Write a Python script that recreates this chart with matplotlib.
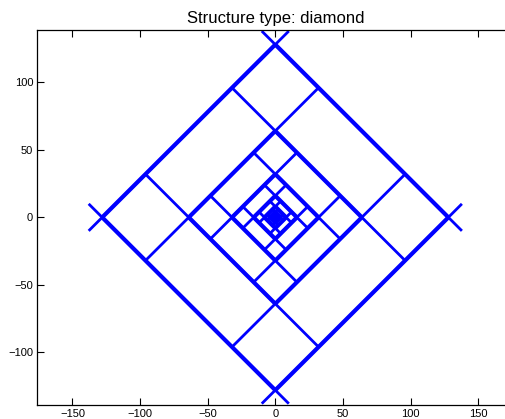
import matplotlib
matplotlib.use("Agg")
import matplotlib.pyplot as plt
import numpy as np

# half-sizes of the nested diamonds (|x| + |y| = s)
sizes = [128, 64, 32, 16, 8, 4, 2, 1]
# how far each edge line runs past the diamond's corners (in x-y units)
tails = [20, 64, 32, 16, 8, 4, 2, 1]

x_ticks = [-150, -100, -50, 0, 50, 100, 150]
y_ticks = [-100, -50, 0, 50, 100]
title = "Structure type: diamond"

plt.rcParams['font.family'] = ['Liberation Sans', 'DejaVu Sans']

fig = plt.figure(figsize=(5.06, 4.19), dpi=100)
ax = fig.add_axes([0.0737, 0.0334, 0.9407, 0.8957])

blue = (0, 0, 1)


def pq_to_xy(p, q):
    # p = x + y, q = x - y
    p = np.asarray(p, dtype=float)
    q = np.asarray(q, dtype=float)
    return (p + q) / 2, (p - q) / 2


for s, t in zip(sizes, tails):
    for a in (-1, 1):
        # lines x + y = a*s
        x, y = pq_to_xy([a * s, a * s], [-s - t, s + t])
        ax.plot(x, y, color=blue, lw=2.0, solid_capstyle='butt')
        x, y = pq_to_xy([a * s, a * s], [-s, s])
        ax.plot(x, y, color=blue, lw=3.0, solid_capstyle='butt')
        # lines x - y = a*s
        x, y = pq_to_xy([-s - t, s + t], [a * s, a * s])
        ax.plot(x, y, color=blue, lw=2.0, solid_capstyle='butt')
        x, y = pq_to_xy([-s, s], [a * s, a * s])
        ax.plot(x, y, color=blue, lw=3.0, solid_capstyle='butt')

ax.set_xlim(-176, 176)
ax.set_ylim(-139, 139)
ax.set_xticks(x_ticks)
ax.set_yticks(y_ticks)
ax.tick_params(direction='in', length=5, width=0.8, labelsize=8,
               top=True, right=True, pad=3)
for sp in ax.spines.values():
    sp.set_linewidth(0.9)
ax.set_title(title, fontsize=12, pad=5)

fig.savefig("out.png", dpi=100)
